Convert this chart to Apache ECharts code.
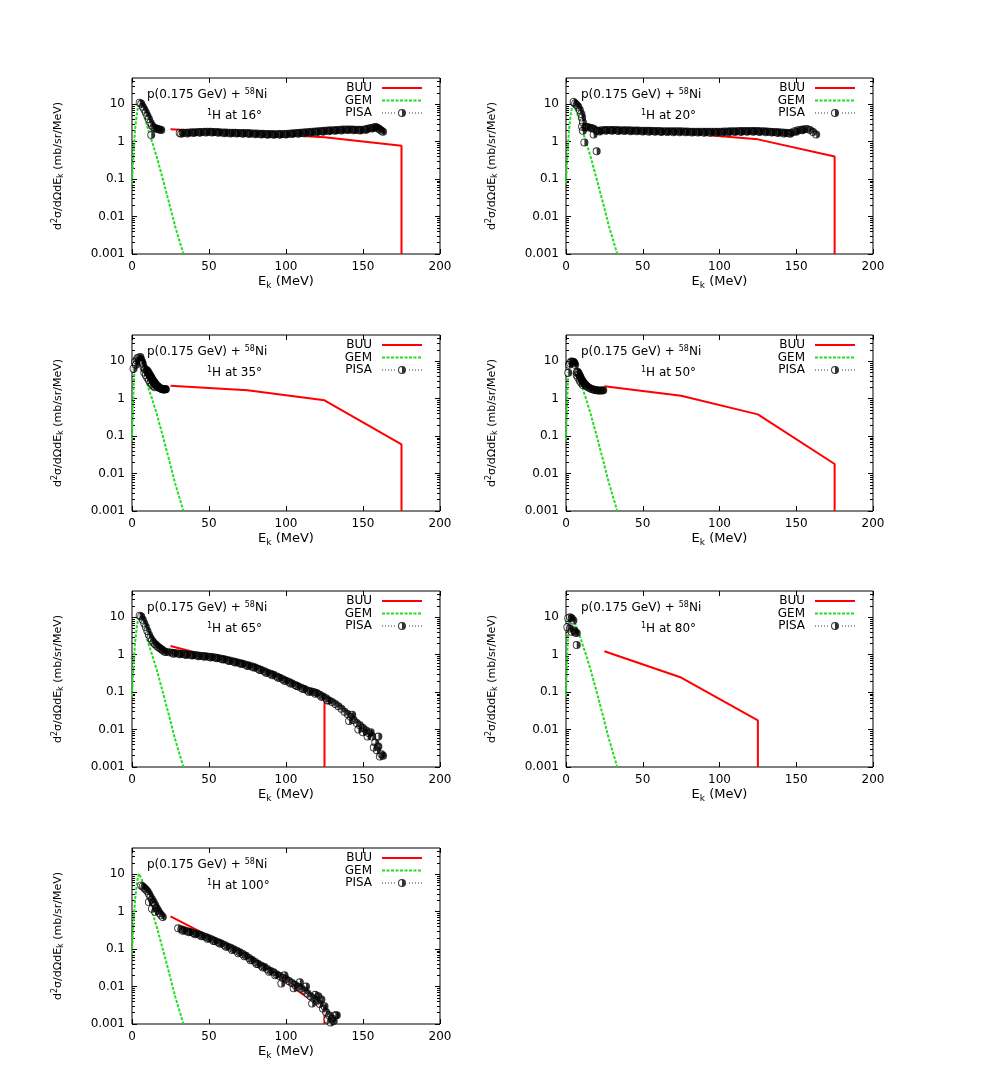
<!DOCTYPE html>
<html>
<head>
<meta charset="utf-8">
<script src="https://cdn.jsdelivr.net/npm/echarts@6/dist/echarts.min.js"></script>
<style>
  html, body { margin: 0; background: #fff; }
  #chart { width: 981px; height: 1090px; }
</style>
</head>
<body>
<div id="chart"></div>
<script>
const FONT = "DejaVu Sans";

const angles = ["16", "20", "35", "50", "65", "80", "100"];
const yTickValues = [0.001, 0.01, 0.1, 1, 10];
const yTickLabels = ["0.001", "0.01", "0.1", "1", "10"];
const yMinorTicks = [
  0.002, 0.003, 0.004, 0.005, 0.006, 0.007, 0.008, 0.009,
  0.02, 0.03, 0.04, 0.05, 0.06, 0.07, 0.08, 0.09,
  0.2, 0.3, 0.4, 0.5, 0.6, 0.7, 0.8, 0.9,
  2, 3, 4, 5, 6, 7, 8, 9, 20, 30, 40,
];

// BUU (E MeV, d2sigma)
const buu16 = [[25, 2.15], [75, 1.7], [125, 1.3], [175, 0.78], [175, 0.001]];
const buu20 = [[25, 2.0], [75, 1.7], [125, 1.15], [175, 0.4], [175, 0.001]];
const buu35 = [[25, 2.2], [75, 1.67], [125, 0.9], [175, 0.06], [175, 0.001]];
const buu50 = [[25, 2.15], [75, 1.2], [125, 0.38], [175, 0.018], [175, 0.001]];
const buu65 = [[25, 1.7], [75, 0.5], [125, 0.07], [125, 0.001]];
const buu80 = [[25, 1.23], [75, 0.245], [125, 0.0175], [125, 0.001]];
const buu100 = [[25, 0.75], [75, 0.065], [125, 0.0025], [125, 0.001]];

// GEM
const gemA = [
  [0, 0.08], [1, 0.5], [2, 2.1], [3, 5], [4, 9], [4.6, 10.4], [5.5, 9.2], [7, 6.2],
  [9, 3.4], [11, 1.8], [13, 1.0], [16, 0.4], [20, 0.1], [24, 0.024], [28, 0.0055], [33.4, 0.001],
];
const gemB = [
  [0, 0.08], [0.5, 0.4], [1, 1.8], [1.5, 5], [2, 8], [2.5, 9.6], [3, 10], [4, 9.5], [5.5, 7.5],
  [7, 5.2], [9, 3.2], [11, 1.75], [13, 1.0], [16, 0.4], [20, 0.1], [24, 0.024], [28, 0.0055], [33.4, 0.001],
];

// PISA
const pisa16 = [
  [5, 11], [6, 10.2], [7, 8.6], [8, 7.2], [9, 6], [10, 4.9], [11, 4], [12, 3.2], [12.5, 1.5], [13, 2.7],
  [14, 2.4], [15, 2.3], [16, 2.2], [17, 2.15], [18, 2.1], [19, 2.05],
  [31, 1.7], [33, 1.72], [35, 1.74], [37, 1.76], [39, 1.78], [41, 1.79], [43, 1.8], [45, 1.82], [47, 1.83],
  [49, 1.84], [51, 1.83], [53, 1.82], [55, 1.8], [57, 1.78], [59, 1.76], [61, 1.75], [63, 1.74], [65, 1.73],
  [67, 1.72], [69, 1.71], [71, 1.7], [73, 1.7], [75, 1.69], [77, 1.67], [79, 1.66], [81, 1.64], [83, 1.63],
  [85, 1.62], [87, 1.61], [89, 1.6], [91, 1.59], [93, 1.58], [95, 1.59], [97, 1.6], [99, 1.61], [101, 1.63],
  [103, 1.65], [105, 1.67], [107, 1.69], [109, 1.72], [111, 1.75], [113, 1.78], [115, 1.81], [117, 1.84],
  [119, 1.86], [121, 1.89], [123, 1.92], [125, 1.95], [127, 1.97], [129, 2.0], [131, 2.02], [133, 2.05],
  [135, 2.08], [137, 2.1], [139, 2.12], [141, 2.12], [143, 2.1], [145, 2.08], [147, 2.07], [149, 2.08],
  [151, 2.12], [153, 2.2], [155, 2.3], [157, 2.4], [158, 2.45], [159, 2.4], [160, 2.25], [161, 2.1],
  [162, 1.95], [163, 1.85],
  [32, 1.62], [36, 1.66], [40, 1.7], [44, 1.74], [48, 1.76], [52, 1.75], [56, 1.72], [60, 1.68], [64, 1.66],
  [68, 1.64], [72, 1.62], [76, 1.6], [80, 1.57], [84, 1.55], [88, 1.53], [92, 1.52], [96, 1.53], [100, 1.56],
  [104, 1.59], [108, 1.63], [112, 1.68], [116, 1.73], [120, 1.78], [124, 1.84], [128, 1.89], [132, 1.94],
  [136, 1.99], [140, 2.03], [144, 2.0], [148, 1.98], [152, 2.08], [156, 2.25],
];
const pisa20 = [
  [5, 11.5], [6, 10.5], [7, 9.5], [8, 8.5], [9, 7], [10, 5.5], [10.5, 4.4], [11, 3.3], [10.5, 2.5], [11, 1.95],
  [12, 0.95], [12.5, 2.4], [13.5, 2.5], [15, 2.4], [16.5, 2.3], [18, 2.2], [18, 1.55], [20, 0.55], [20, 1.95],
  [21, 1.95], [23, 2.0], [25, 2.04], [27, 2.05], [29, 2.05], [31, 2.04], [33, 2.03], [35, 2.02], [37, 2.02],
  [39, 2.0], [41, 2.0], [43, 1.99], [45, 1.98], [47, 1.97], [49, 1.96], [51, 1.96], [53, 1.95], [55, 1.94],
  [57, 1.93], [59, 1.92], [61, 1.91], [63, 1.9], [65, 1.9], [67, 1.89], [69, 1.88], [71, 1.88], [73, 1.88],
  [75, 1.88], [77, 1.87], [79, 1.86], [81, 1.85], [83, 1.85], [85, 1.84], [87, 1.84], [89, 1.84], [91, 1.83],
  [93, 1.83], [95, 1.84], [97, 1.84], [99, 1.84], [101, 1.85], [103, 1.86], [105, 1.87], [107, 1.88],
  [109, 1.89], [111, 1.9], [113, 1.91], [115, 1.92], [117, 1.92], [119, 1.92], [121, 1.92], [123, 1.92],
  [125, 1.92], [127, 1.9], [129, 1.88], [131, 1.86], [133, 1.84], [135, 1.82], [137, 1.8], [139, 1.78],
  [141, 1.76], [143, 1.72], [145, 1.7], [147, 1.75], [149, 1.9], [151, 2.0], [153, 2.08], [155, 2.15],
  [157, 2.17], [159, 2.05], [161, 1.8], [163, 1.55],
  [22, 1.86], [26, 1.94], [30, 1.95], [34, 1.93], [38, 1.92], [42, 1.9], [46, 1.88], [50, 1.87], [54, 1.85],
  [58, 1.83], [62, 1.82], [66, 1.8], [70, 1.79], [74, 1.79], [78, 1.78], [82, 1.76], [86, 1.75], [90, 1.74],
  [94, 1.74], [98, 1.75], [102, 1.76], [106, 1.78], [110, 1.8], [114, 1.82], [118, 1.83], [122, 1.83],
  [126, 1.82], [130, 1.78], [134, 1.75], [138, 1.7], [142, 1.66], [146, 1.62], [150, 1.85], [154, 2.0],
];
const pisa35 = [
  [1, 6.3], [2, 9.5], [2.5, 8], [3, 10.5], [3.5, 12], [4.3, 12.4], [5.4, 13], [6, 11], [6.5, 9.6], [7.5, 7],
  [8.2, 6.2], [8.7, 6], [9.7, 5.7], [10.2, 5.3], [10.8, 4.9], [11.4, 4.4], [11.9, 4], [12.5, 3.7], [13, 3.4],
  [13.5, 3.1], [14, 2.9], [14.6, 2.7], [15.2, 2.5], [15.7, 2.35], [16.2, 2.2], [16.8, 2.1], [17.3, 2.05],
  [17.8, 1.95], [18.4, 1.9], [19, 1.85], [19.5, 1.8], [20, 1.78], [20.6, 1.75], [21.1, 1.75], [21.6, 1.8],
  [22, 1.78], [7, 8.5], [8, 5], [9, 4.2], [10, 3.6], [11, 3.1], [12, 2.7], [13, 2.4], [14, 2.15], [15, 2.0],
];
const pisa50 = [
  [1.5, 4.9], [2, 8], [2.6, 9], [3.5, 9.8], [4.3, 9.6], [5, 9.5], [5.4, 9], [6, 8], [7, 5], [7.5, 5.2],
  [8, 4.9], [8.5, 4.5], [9.1, 4], [9.6, 3.6], [10.2, 3.2], [10.8, 2.95], [11.3, 2.7], [11.9, 2.55],
  [12.4, 2.4], [13, 2.25], [13.5, 2.15], [14.5, 2.0], [15.6, 1.9], [16.7, 1.82], [17.8, 1.75], [18.9, 1.7],
  [20, 1.67], [21, 1.65], [22.2, 1.64], [23.3, 1.65], [24.3, 1.67],
  [7, 4.2], [8, 3.6], [9, 3.0], [10, 2.6], [11, 2.3],
];
const pisa65 = [
  [5, 11], [6, 10.5], [7, 8.5], [8, 6.8], [9, 5.5], [10, 4.3], [11, 3.4], [12, 2.8], [13, 2.4], [14, 2.1],
  [15, 1.9], [16, 1.75], [17, 1.6], [18, 1.5], [19, 1.4], [20, 1.3], [21, 1.22], [22, 1.18],
  [24, 1.15], [26, 1.12], [28, 1.1], [30, 1.08], [32, 1.06], [34, 1.04], [36, 1.02], [38, 1.0], [40, 0.98],
  [42, 0.96], [44, 0.94], [46, 0.92], [48, 0.9], [50, 0.88], [52, 0.86], [54, 0.84], [56, 0.81], [58, 0.78],
  [60, 0.75], [62, 0.72], [64, 0.69], [66, 0.66], [68, 0.63], [70, 0.6], [72, 0.57], [74, 0.54], [76, 0.51],
  [78, 0.48], [80, 0.45], [82, 0.42], [84, 0.39], [86, 0.36], [88, 0.33], [90, 0.31], [92, 0.29], [94, 0.26],
  [96, 0.24], [98, 0.22], [100, 0.2], [102, 0.185], [104, 0.17], [106, 0.155], [108, 0.14], [110, 0.13],
  [112, 0.12], [114, 0.11], [116, 0.105], [118, 0.1], [120, 0.095], [122, 0.085], [124, 0.076], [126, 0.068],
  [128, 0.06], [130, 0.054], [132, 0.048], [134, 0.042], [136, 0.036], [138, 0.03], [140, 0.026],
  [142, 0.022], [144, 0.018], [146, 0.015], [148, 0.013], [150, 0.011], [152, 0.0095], [154, 0.008],
  [156, 0.0065], [158, 0.0045], [160, 0.0035], [162, 0.0022],
  [141, 0.017], [147, 0.01], [150, 0.0085], [153, 0.0065], [157, 0.0033], [159, 0.0028], [161, 0.0019],
  [163, 0.002], [143, 0.025], [155, 0.0085], [160, 0.0065],
  [27, 1.05], [31, 1.02], [35, 0.98], [39, 0.95], [43, 0.91], [47, 0.88], [51, 0.84], [55, 0.8], [59, 0.74],
  [63, 0.68], [67, 0.62], [71, 0.56], [75, 0.5], [79, 0.45], [83, 0.39], [87, 0.33], [91, 0.28], [95, 0.24],
  [99, 0.2], [103, 0.17], [107, 0.145], [111, 0.12], [115, 0.1], [119, 0.09], [123, 0.075], [127, 0.06],
];
const pisa80 = [
  [0.9, 5.4], [1.5, 9.4], [2.6, 10], [3.7, 9.4], [4.8, 8.1], [2.6, 5.0], [3.7, 4.1], [5.4, 4.4], [5.9, 3.9],
  [7, 3.8], [7, 1.8],
];
const pisa100 = [
  [6, 5], [7, 4.7], [8, 4.3], [9, 3.9], [10, 3.5], [11, 3.0], [12, 2.5], [13, 2.1], [14, 1.8], [15, 1.5],
  [16, 1.25], [17, 1.05], [18, 0.9], [19, 0.8], [20, 0.72], [11, 1.8], [13, 1.2], [15, 1.0],
  [30, 0.36], [32, 0.34], [34, 0.32], [36, 0.3], [38, 0.285], [40, 0.27], [42, 0.255], [44, 0.24],
  [46, 0.225], [48, 0.21], [50, 0.195], [52, 0.18], [54, 0.165], [56, 0.152], [58, 0.14], [60, 0.128],
  [62, 0.118], [64, 0.108], [66, 0.099], [68, 0.09], [70, 0.082], [72, 0.074], [74, 0.066], [76, 0.058],
  [78, 0.051], [80, 0.045], [82, 0.04], [84, 0.036], [86, 0.033], [88, 0.029], [90, 0.026], [92, 0.024],
  [94, 0.021], [96, 0.019], [98, 0.017], [100, 0.016], [102, 0.014], [104, 0.0125], [106, 0.011],
  [108, 0.0098], [110, 0.0088], [112, 0.0078], [114, 0.0065], [116, 0.0055], [118, 0.0048], [120, 0.0042],
  [122, 0.0034], [124, 0.0026], [126, 0.0021], [128, 0.0017], [130, 0.0014], [132, 0.0017],
  [97, 0.012], [99, 0.02], [105, 0.009], [109, 0.013], [113, 0.01], [117, 0.0035], [119, 0.006],
  [121, 0.0055], [123, 0.0045], [125, 0.003], [127, 0.0013], [129, 0.0011], [131, 0.0012], [133, 0.0017],
  [33, 0.31], [37, 0.28], [41, 0.25], [45, 0.22], [49, 0.19], [53, 0.165], [57, 0.14], [61, 0.115],
  [65, 0.095], [69, 0.078], [73, 0.064], [77, 0.05], [81, 0.04], [85, 0.032], [89, 0.025], [93, 0.02],
];

const panels = [
  { angle: angles[0], buu: buu16, gem: gemA, pisa: pisa16 },
  { angle: angles[1], buu: buu20, gem: gemA, pisa: pisa20 },
  { angle: angles[2], buu: buu35, gem: gemB, pisa: pisa35 },
  { angle: angles[3], buu: buu50, gem: gemB, pisa: pisa50 },
  { angle: angles[4], buu: buu65, gem: gemA, pisa: pisa65 },
  { angle: angles[5], buu: buu80, gem: gemB, pisa: pisa80 },
  { angle: angles[6], buu: buu100, gem: gemA, pisa: pisa100 },
];

// layout of the 2-column panel grid
const colLeft = [132, 566];
const colWidth = [308, 307];
const rowTop = [78, 335, 591, 848];
const plotH = 176;

// half-filled circle (right half black)
const pisaSymbol =
  "path://M10,0A10,10,0,1,1,10,20A10,10,0,1,1,10,0Z" +
  "M10,2.2A7.8,7.8,0,1,0,10,17.8A7.8,7.8,0,1,0,10,2.2Z" +
  "M10,0A10,10,0,0,1,10,20Z";

function pisaLegendIcon() {
  let p = "path://";
  for (let x = 0; x < 40; x += 3) {
    if (x > 14 && x < 25) continue;
    p += `M${x},3.6h1v0.8h-1Z`;
  }
  p += "M20,0A4,4,0,1,1,20,8A4,4,0,1,1,20,0Z";
  p += "M20,1A3,3,0,1,0,20,7A3,3,0,1,0,20,1Z";
  p += "M20,0A4,4,0,0,1,20,8Z";
  return p;
}

const rich = {
  n: { fontFamily: FONT, fontSize: 12, fontWeight: "normal", color: "#000", lineHeight: 14 },
  sup: { fontFamily: FONT, fontSize: 8, fontWeight: "normal", color: "#000", lineHeight: 8, verticalAlign: "top" },
};
const axisRich = {
  t: { fontFamily: FONT, fontSize: 11, color: "#000", lineHeight: 14 },
  sup: { fontFamily: FONT, fontSize: 8, color: "#000", lineHeight: 8, verticalAlign: "top" },
  sub: { fontFamily: FONT, fontSize: 8, color: "#000", lineHeight: 8, verticalAlign: "bottom" },
};
const xRich = {
  t: { fontFamily: FONT, fontSize: 13, color: "#000", lineHeight: 16 },
  sub: { fontFamily: FONT, fontSize: 9, color: "#000", lineHeight: 9, verticalAlign: "bottom" },
};

const grid = [], xAxis = [], yAxis = [], series = [], legend = [], title = [];

panels.forEach((p, i) => {
  const c = i % 2;
  const r = Math.floor(i / 2);
  const left = colLeft[c];
  const top = rowTop[r];

  grid.push({
    left, top, width: colWidth[c], height: plotH,
    show: true, borderColor: "#000", borderWidth: 1, backgroundColor: "transparent",
  });

  const xBase = {
    type: "value", gridIndex: i, min: 0, max: 200, interval: 50,
    axisLine: { show: false },
    axisTick: { inside: true, length: 5, lineStyle: { color: "#000" } },
    splitLine: { show: false },
  };
  xAxis.push({
    ...xBase,
    position: "bottom",
    axisLabel: { color: "#000", fontFamily: FONT, fontSize: 12, margin: 7 },
    name: "{t|E}{sub|k}{t| (MeV)}",
    nameLocation: "middle",
    nameGap: 20,
    nameTextStyle: { rich: xRich },
  });
  xAxis.push({ ...xBase, position: "top", axisLabel: { show: false } });

  const yBase = {
    type: "log", logBase: 10, gridIndex: i, min: 0.001, max: 50,
    axisLine: { show: false },
    splitLine: { show: false },
  };
  const major = { inside: true, length: 5, lineStyle: { color: "#000" }, customValues: yTickValues };
  const minor = { inside: true, length: 3, lineStyle: { color: "#000" }, customValues: yMinorTicks };
  yAxis.push({
    ...yBase,
    position: "left",
    axisTick: major,
    axisLabel: {
      color: "#000", fontFamily: FONT, fontSize: 12, margin: 7,
      customValues: yTickValues,
      formatter: (v) => yTickLabels[Math.round(Math.log10(v)) + 3],
    },
    name: "{t|d}{sup|2}{t|σ/dΩdE}{sub|k}{t| (mb/sr/MeV)}",
    nameLocation: "middle",
    nameGap: 67,
    nameTextStyle: { rich: axisRich },
  });
  yAxis.push({ ...yBase, position: "left", axisTick: minor, axisLabel: { show: false } });
  yAxis.push({ ...yBase, position: "right", axisTick: major, axisLabel: { show: false } });
  yAxis.push({ ...yBase, position: "right", axisTick: minor, axisLabel: { show: false } });

  title.push({
    left: left + 15, top: top + 10, padding: 0,
    text: "{n|p(0.175 GeV) + }{sup|58}{n|Ni}",
    textStyle: { fontWeight: "normal", rich },
  });
  title.push({
    left: left + 75, top: top + 31, padding: 0,
    text: `{sup|1}{n|H at ${p.angle}°}`,
    textStyle: { fontWeight: "normal", rich },
  });

  legend.push({
    orient: "vertical", align: "right",
    right: 981 - (left + colWidth[c] - 17), top: top + 4,
    padding: 0, itemWidth: 40, itemHeight: 8, itemGap: 0.5,
    selectedMode: false,
    textStyle: { fontFamily: FONT, fontSize: 12, color: "#000", lineHeight: 10, padding: [0, 5, 0, 0] },
    data: [
      { name: "BUU", itemStyle: { opacity: 0 } },
      { name: "GEM", itemStyle: { opacity: 0 } },
      { name: "PISA", icon: pisaLegendIcon() },
    ],
  });

  series.push({
    name: "BUU", type: "line", xAxisIndex: 2 * i, yAxisIndex: 4 * i, z: 1,
    data: p.buu, symbol: "none",
    lineStyle: { color: "#ff0000", width: 2 }, itemStyle: { color: "#ff0000" },
  });
  series.push({
    name: "GEM", type: "line", xAxisIndex: 2 * i, yAxisIndex: 4 * i, z: 2,
    data: p.gem, symbol: "none",
    lineStyle: { color: "#22dd22", width: 2, type: [3, 1.5] }, itemStyle: { color: "#22dd22" },
  });
  // white backing under the PISA points so the lines pass behind them
  series.push({
    name: "PISA back", type: "scatter", xAxisIndex: 2 * i, yAxisIndex: 4 * i, z: 3,
    data: p.pisa, symbol: "circle", symbolSize: 7,
    itemStyle: { color: "#fff" }, silent: true,
  });
  series.push({
    name: "PISA", type: "scatter", xAxisIndex: 2 * i, yAxisIndex: 4 * i, z: 4,
    data: p.pisa, symbol: pisaSymbol, symbolSize: 8,
    itemStyle: { color: "#000" },
  });
});

const chart = echarts.init(document.getElementById("chart"));
chart.setOption({
  animation: false,
  backgroundColor: "#fff",
  title, legend, grid, xAxis, yAxis, series,
});
</script>
</body>
</html>
